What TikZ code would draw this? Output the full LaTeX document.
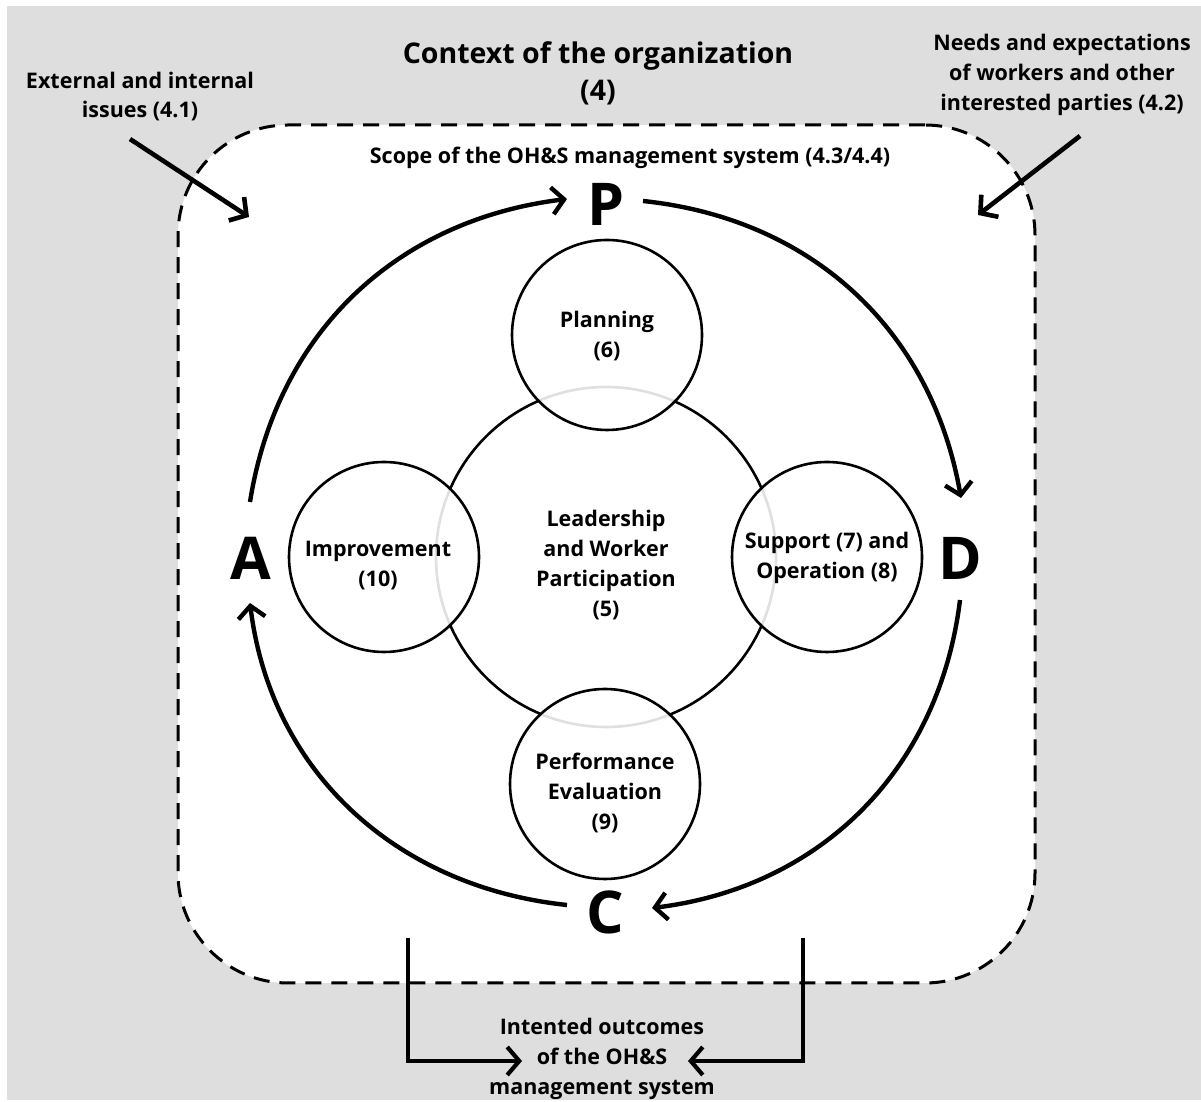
\documentclass[tikz,border=0pt]{standalone}
\usepackage{fontspec}
\setmainfont{Open Sans}
\usetikzlibrary{arrows.meta,calc}
\definecolor{bggray}{HTML}{DEDEDE}
\begin{document}
\begin{tikzpicture}[x=1pt,y=1pt,
  txt/.style={font=\fontsize{21.5}{29}\selectfont\bfseries, align=center, inner sep=0pt},
  titletxt/.style={font=\fontsize{28.5}{37}\selectfont\bfseries, align=center, inner sep=0pt},
  letter/.style={font=\fontsize{59}{59}\selectfont\bfseries, inner sep=0pt},
  phasetxt/.style={align=center, inner sep=0pt, text opacity=1, fill opacity=1, font=\fontsize{21.5}{30}\selectfont\bfseries},
  phase/.style={circle, draw, line width=2.6pt, minimum size=190pt, fill=white, fill opacity=0.88, inner sep=0pt},
  core/.style={circle, draw, line width=2.6pt, minimum size=340pt, inner sep=0pt},
  scopebox/.style={draw, fill=white, line width=3pt, dash pattern=on 16pt off 10pt, rounded corners=110pt, minimum width=857pt, minimum height=858pt, inner sep=0pt},
  cyc/.style={line width=4.4pt, -{Straight Barb[length=12pt,width=27pt]}},
  diag/.style={line width=4.6pt, -{Straight Barb[length=12pt,width=28pt]}},
  outarr/.style={line width=4.2pt, -{Straight Barb[length=12pt,width=28pt]}}
]
\useasboundingbox (0,0) rectangle (1201,1102);
\fill[white] (0,0) rectangle (1201,1102);
\fill[bggray] (7,2) rectangle (1201,1096);

% scope region
\node[scopebox] (scope) at (606.5,548) {};
\node[txt] (scopelbl) at (630,944) {Scope of the OH\&S management system (4.3/4.4)};

% headings
\node[titletxt] (ctx) at (598,1028.5) {Context of the organization\\(4)};
\node[txt] (ext) at (140,1005.5) {External and internal\\issues (4.1)};
\node[txt, font=\fontsize{21.5}{30}\selectfont\bfseries] (needs) at (1062,1027) {Needs and expectations\\of workers and other\\interested parties (4.2)};

% circles
\node[core, label={[phasetxt, yshift=-8pt]center:{Leadership\\and Worker\\Participation\\(5)}}] (lead) at (606,545) {};
\node[phase, label={[phasetxt, yshift=-1pt]center:{Planning\\(6)}}] (plan) at (607,767) {};
\node[phase, label={[phasetxt, xshift=-6pt, yshift=-9pt]center:{Improvement\\(10)}}] (impr) at (384,545) {};
\node[phase, label={[phasetxt, yshift=-1pt]center:{Support (7) and\\Operation (8)}}] (supp) at (827,545) {};
\node[phase, label={[phasetxt, yshift=-9pt]center:{Performance\\Evaluation\\(9)}}] (perf) at (605,318) {};

% PDCA letters
\node[letter] (P) at (606,898) {P};
\node[letter] (D) at (960,544) {D};
\node[letter] (C) at (605,190) {C};
\node[letter] (A) at (251,544) {A};

\draw[cyc] ($(A)+(-1,56)$) to[out=81,in=187] ($(P)+(-39,5)$);
\draw[cyc] ($(P)+(37,3)$) to[out=-6,in=100] ($(D)+(1,60)$);
\draw[cyc] ($(D)+(0,-42)$) to[out=-97,in=7] ($(C)+(47,4)$);
\draw[cyc] ($(C)+(-38,7)$) to[out=174,in=-83] ($(A)+(-1,-45)$);

% input arrows
\coordinate (extTip) at (249,885);
\coordinate (needTip) at (978,887);
\draw[diag] ($(ext.south)+(-10,-18)$) -- (extTip);
\draw[diag] ($(needs.south)+(18,-20)$) -- (needTip);

% outcomes
\node[txt, font=\fontsize{21.5}{30}\selectfont\bfseries] (outc) at (602,43) {Intented outcomes\\of the OH\&S\\management system};
\coordinate (outL) at (522,41);
\coordinate (outR) at (688,41);
\coordinate (bl) at (408,164);
\coordinate (br) at (803,164);
\draw[outarr] (bl) |- (outL);
\draw[outarr] (br) |- (outR);
\end{tikzpicture}
\end{document}
